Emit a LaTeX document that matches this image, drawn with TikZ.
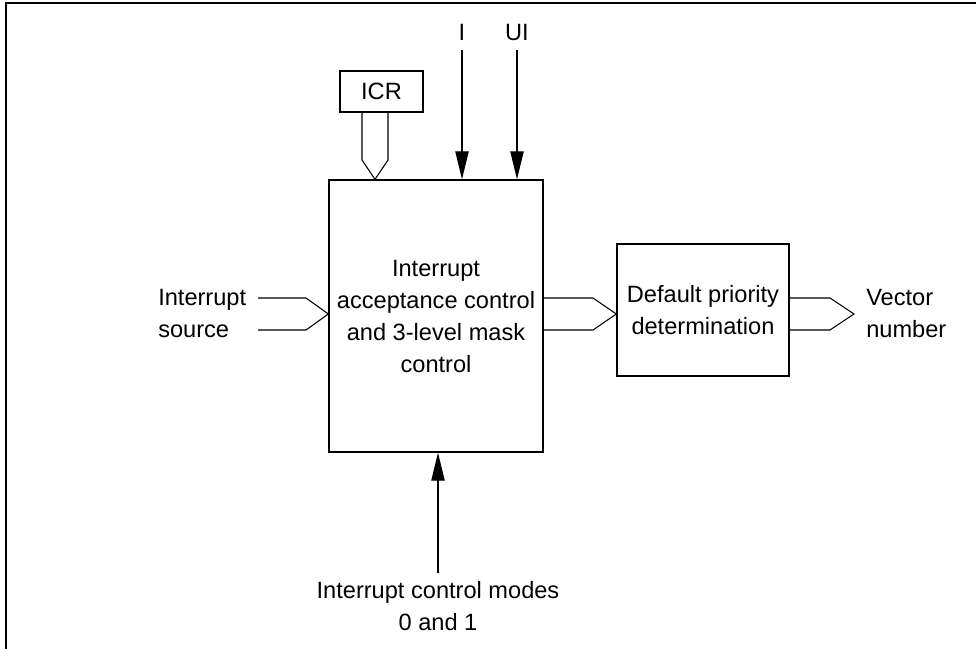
\documentclass[tikz,border=0pt]{standalone}
\usepackage{fontspec}
\setmainfont{Liberation Sans}
\usetikzlibrary{arrows.meta,calc}
\begin{document}
\begin{tikzpicture}[x=0.75pt,y=-0.75pt,
  txt/.style={font=\fontsize{17.7}{24}\selectfont, inner sep=0pt, align=center},
  blk/.style={draw, line width=1pt, inner sep=0pt, align=center,
              font=\fontsize{17.7}{24}\selectfont},
  bus/.style={line width=0.8pt, line join=miter},
  sig/.style={line width=0.8pt, -{Triangle[length=21pt,width=10pt]}},
  frame/.style={line width=1.6pt}]
\useasboundingbox (0,0) rectangle (976,649);

% outer frame (top and left edges)
\draw[frame] (6,649) -- (6,3) -- (976,3);

% blocks
\node[blk, minimum width=214pt*0.75, minimum height=272pt*0.75] (main) at (436,316)
  {Interrupt\\acceptance control\\and 3-level mask\\control};
\node[blk, minimum width=172pt*0.75, minimum height=132pt*0.75] (prio) at (703,310)
  {Default priority\\determination};
\node[blk, minimum width=83pt*0.75, minimum height=41pt*0.75] (icr) at (381.5,91.5) {ICR};

% labels
\node[txt, anchor=west, align=left] (src) at (158,313) {Interrupt\\source};
\node[txt, anchor=west, align=left] (vec) at (866,313) {Vector\\number};
\node[txt] (lblI) at (462,32) {I};
\node[txt] (lblUI) at (517,32) {UI};
\node[txt] (modes) at (438,606) {Interrupt control modes\\0 and 1};

% ICR bus into the main block
\coordinate (icrtip) at (main.north -| 375,0);
\draw[bus] (icr.south -| 362,0) -- (362,160) -- (icrtip) -- (388,160) -- (icr.south -| 388,0);

% interrupt source bus
\coordinate (srctip) at (main.west |- 0,314);
\draw[bus] (258,298) -- (306,298) -- (srctip) -- (306,330) -- (258,330);

% bus between the two blocks
\coordinate (midtip) at (prio.west |- 0,314);
\draw[bus] (main.east |- 0,298) -- (593,298) -- (midtip) -- (593,330) -- (main.east |- 0,330);

% output bus
\coordinate (vectip) at (854,314);
\draw[bus] (prio.east |- 0,298) -- (830,298) -- (vectip) -- (830,330) -- (prio.east |- 0,330);

% single-line signals
\draw[sig] (462,50) -- (main.north -| 462,0);
\draw[sig] (517,50) -- (main.north -| 517,0);
\draw[sig] (modes.north -| 438,0) ++(0,-8) -- (main.south -| 438,0);
\end{tikzpicture}
\end{document}
